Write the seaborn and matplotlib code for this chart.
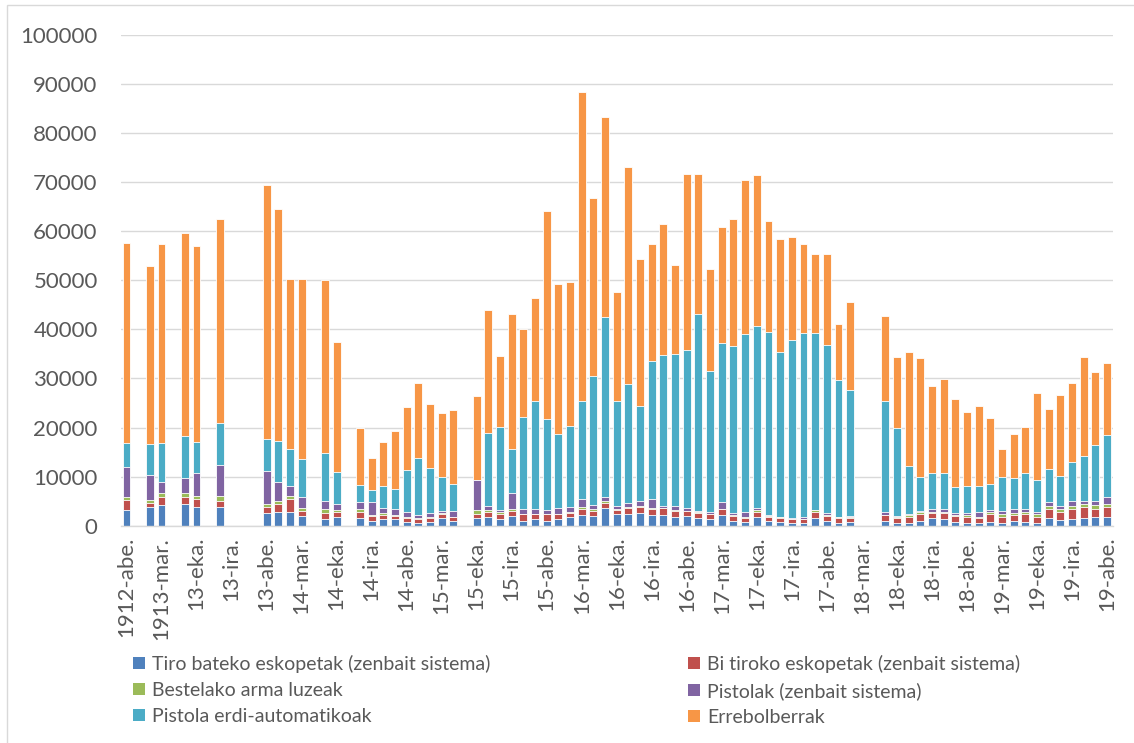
import numpy as np
import pandas as pd
import matplotlib
matplotlib.use("Agg")
import matplotlib.pyplot as plt
import seaborn as sns
from matplotlib.patches import Patch, Rectangle

sns.set_theme(style="white")
plt.rcParams["font.family"] = ["Lato", "DejaVu Sans"]

# ---------------- data ----------------
month_abbr = ["urt.", "ots.", "mar.", "api.", "mai.", "eka.",
              "uzt.", "abu.", "ira.", "urr.", "aza.", "abe."]
months = ["1912-abe."] + [f"{y}-{m}" for y in range(1913, 1920) for m in month_abbr]

tick_labels = ["1912-abe.", "1913-mar.", "13-eka.", "13-ira.", "13-abe.", "14-mar.",
               "14-eka.", "14-ira.", "14-abe.", "15-mar.", "15-eka.", "15-ira.",
               "15-abe.", "16-mar.", "16-eka.", "16-ira.", "16-abe.", "17-mar.",
               "17-eka.", "17-ira.", "17-abe.", "18-mar.", "18-eka.", "18-ira.",
               "18-abe.", "19-mar.", "19-eka.", "19-ira.", "19-abe."]

N = None  # month without data

tiro_bateko = [3200, N, 3740, 4220, N, 4420, 3740, N, 3740, N, N, N,
               2650, 2720, 2860, 1900, N, 1430, 1700, N, 1500, 950, 1290, 1290,
               820, 610, 820, 1630, 1020, N, 1500, 1840, 1430, 1970, 1020, 1290,
               1020, 1290, 1700, 2180, 2040, 3670, 2310, 2380, 2650, 2180, 2180, 1840,
               1970, 1500, 1290, 2180, 1020, 680, 1700, 950, 680, 480, 480, 1500,
               1020, 610, 680, N, N, 950, 610, 610, 950, 1500, 1290, 680,
               610, 480, 820, 610, 1020, 820, 480, 1630, 1160, 1290, 1630, 1840,
               1700]

bi_tiroko = [2040, N, 950, 1700, N, 1500, 1700, N, 1360, N, N, N,
             1160, 1630, 2580, 1160, N, 1090, 1020, N, 1360, 1020, 950, 750,
             810, 680, 680, 680, 680, N, 810, 1020, 950, 1090, 1290, 1090,
             1290, 1090, 820, 1220, 1020, 1020, 890, 1160, 1230, 1150, 1360, 1220,
             1020, 1150, 1090, 1220, 1020, 820, 1160, 890, 950, 810, 880, 1360,
             1020, 1020, 950, N, N, 1230, 1020, 1230, 1360, 1150, 1230, 1360,
             1230, 1020, 1490, 1230, 1160, 1490, 1360, 1770, 1700, 2110, 2250, 1560,
             2180]

bestelako = [680, N, 550, 810, N, 810, 680, N, 950, N, N, N,
             610, 680, 550, 550, N, 880, 480, N, 540, 210, 280, 140,
             210, 210, 200, 210, 100, N, 890, 340, 340, 340, 100, 100,
             100, 100, 200, 480, 270, 410, 200, 340, 200, 340, 100, 100,
             100, 100, 80, 100, 100, 340, 340, 100, 100, 100, 100, 340,
             100, 100, 100, N, N, 100, 100, 340, 410, 210, 200, 100,
             340, 200, 410, 470, 340, 480, 470, 680, 540, 610, 540, 820,
             540]

pistolak = [6120, N, 5100, 2110, N, 2930, 4560, N, 6330, N, N, N,
            6800, 3950, 2170, 2170, N, 1700, 1150, N, 1500, 2720, 1020, 1150,
            880, 680, 950, 540, 1260, N, 6120, 880, 480, 3200, 920, 920,
            790, 1060, 1160, 1490, 890, 820, 680, 680, 950, 1700, 440, 850,
            450, 240, 340, 1260, 480, 880, 340, 340, 100, 100, 270, 100,
            480, 100, 340, N, N, 540, 340, 200, 270, 540, 680, 480,
            340, 1020, 480, 680, 880, 540, 410, 820, 680, 1090, 680, 880,
            1360]

erdi_automatikoak = [4760, N, 6390, 7960, N, 8710, 6460, N, 8500, N, N, N,
                     6400, 8370, 7550, 7760, N, 9800, 6670, N, 3400, 2380, 4620, 4080,
                     8640, 11700, 9190, 6940, 5440, N, 0, 14760, 16870, 8980, 18910, 22040,
                     18500, 15100, 16530, 20070, 26320, 36530, 21430, 24350, 19460, 28100, 30610, 30960,
                     32170, 40140, 28760, 32450, 34010, 36330, 37070, 37180, 33540, 36400, 37520, 35950,
                     34110, 27900, 25620, N, N, 22690, 17930, 9860, 7010, 7420, 7420, 5340,
                     5640, 5440, 5300, 6870, 6400, 7350, 6600, 6600, 6120, 7960, 9120, 11360,
                     12720]

errebolberrak = [40820, N, 36170, 40680, N, 41290, 39800, N, 41710, N, N, N,
                 51900, 47210, 34630, 36800, N, 35240, 26330, N, 11700, 6600, 8980, 11980,
                 12790, 15170, 12990, 12930, 15110, N, 17010, 25170, 14420, 27550, 17830, 20950,
                 42520, 30680, 29250, 62930, 36260, 40820, 22110, 44150, 29930, 24010, 26870, 18230,
                 36060, 28570, 20820, 23610, 25850, 31490, 30950, 22580, 23070, 20950, 18230, 16190,
                 18710, 11360, 17820, N, N, 17140, 14350, 23130, 24150, 17550, 19040, 17820,
                 15110, 16260, 13540, 5720, 8840, 9390, 17690, 12240, 16470, 15990, 20070, 14830,
                 14630]

series_names = ["Tiro bateko eskopetak (zenbait sistema)",
                "Bi tiroko eskopetak (zenbait sistema)",
                "Bestelako arma luzeak",
                "Pistolak (zenbait sistema)",
                "Pistola erdi-automatikoak",
                "Errebolberrak"]
series_values = [tiro_bateko, bi_tiroko, bestelako, pistolak,
                 erdi_automatikoak, errebolberrak]
colors = ["#4F81BD", "#C0504D", "#9BBB59", "#8064A2", "#4BACC6", "#F79646"]

# ---------------- build table ----------------
df = pd.DataFrame({name: pd.to_numeric(pd.Series(vals, dtype="object"), errors="coerce")
                   for name, vals in zip(series_names, series_values)})
df = df.fillna(0.0)
cum = df.cumsum(axis=1)
cum.insert(0, "month", months)

# ---------------- figure ----------------
W, H = 1134, 743
fig = plt.figure(figsize=(W / 100, H / 100), dpi=100)
ax = fig.add_axes([120.66 / W, (H - 525.7) / H, (1112.8 - 120.66) / W, (525.7 - 35) / H])

for name, color in reversed(list(zip(series_names, colors))):
    sns.barplot(data=cum, x="month", y=name, order=months, color=color,
                saturation=1, width=0.68, edgecolor="white", linewidth=0.6,
                errorbar=None, ax=ax, zorder=2)

ax.set_xlim(-0.5, len(months) - 0.5)
ax.set_ylim(0, 100000)
ax.set_yticks(np.arange(0, 100001, 10000))
ax.set_yticklabels([f"{v:d}" for v in range(0, 100001, 10000)])
ax.set_xticks(np.arange(0, len(months), 3))
ax.set_xticklabels(tick_labels, rotation=90)
ax.set_xlabel("")
ax.set_ylabel("")

ax.yaxis.grid(True, color="#D9D9D9", linewidth=1.0)
ax.xaxis.grid(False)
ax.set_axisbelow(True)
for s in ["left", "top", "right"]:
    ax.spines[s].set_visible(False)
ax.spines["bottom"].set_color("#D9D9D9")
ax.spines["bottom"].set_linewidth(1.0)

ax.tick_params(axis="y", length=0, pad=16.5, labelsize=16, labelcolor="#595959")
ax.tick_params(axis="x", length=0, pad=8, labelsize=16, labelcolor="#595959")

# ---------------- legend (two columns) ----------------
handles = [Patch(facecolor=c, edgecolor="none") for c in colors]
leg_kw = dict(frameon=False, loc="upper left", fontsize=14, labelcolor="#595959",
              handlelength=0.6, handleheight=0.6, handletextpad=0.4,
              labelspacing=0.46, borderpad=0, borderaxespad=0)
fig.legend([handles[0], handles[2], handles[4]],
           [series_names[0], series_names[2], series_names[4]],
           bbox_to_anchor=(133 / W, (H - 655) / H), **leg_kw)
fig.legend([handles[1], handles[3], handles[5]],
           [series_names[1], series_names[3], series_names[5]],
           bbox_to_anchor=(688 / W, (H - 655) / H), **leg_kw)

# chart-area border
fig.add_artist(Rectangle((7 / W, -0.1), 1.2, (H - 5) / H + 0.1,
                         transform=fig.transFigure, fill=False,
                         edgecolor="#D9D9D9", linewidth=1.0))

fig.savefig("out.png", dpi=100)
